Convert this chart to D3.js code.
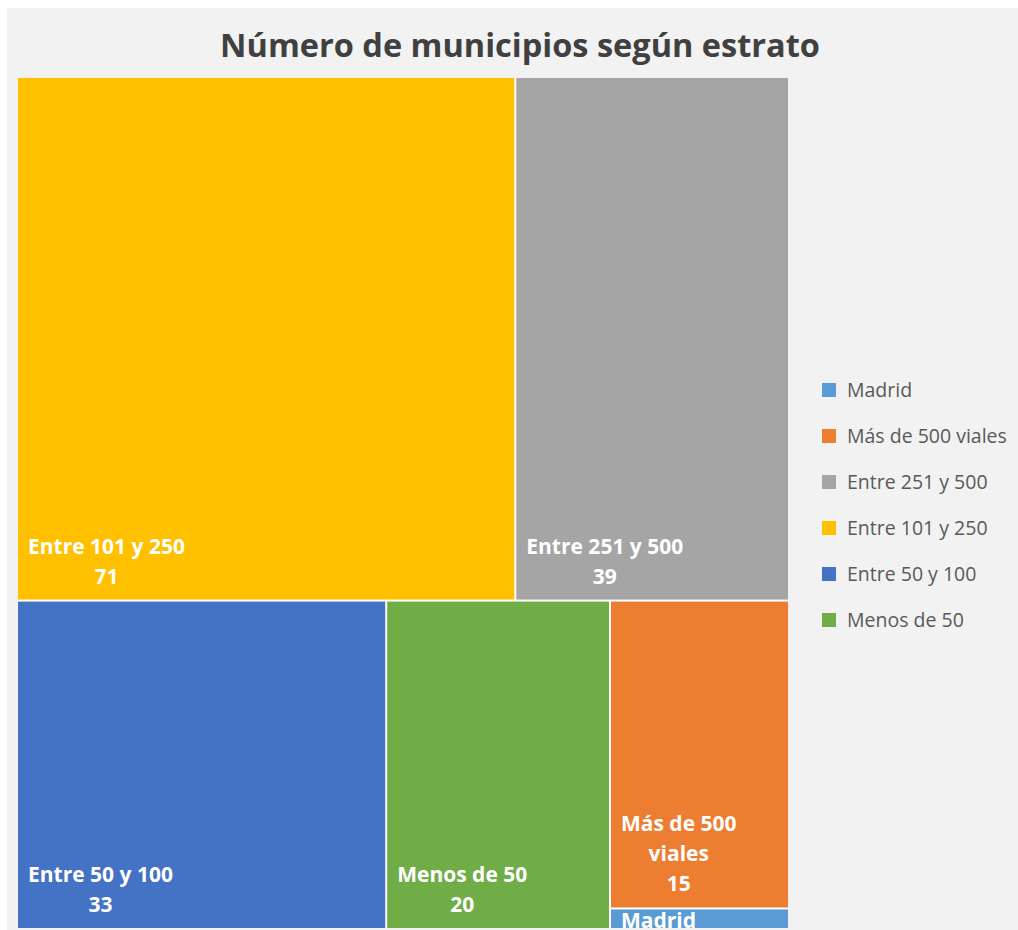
<!DOCTYPE html>
<html>
<head>
<meta charset="utf-8">
<script src="https://cdn.jsdelivr.net/npm/d3@7"></script>
<style>
    body { margin: 0; background: #ffffff; }
    svg { display: block; font-family: "Open Sans", "Noto Sans", sans-serif; }
    .chart-title { font-weight: 700; fill: #404040; text-anchor: middle; }
    .tile-label { font-weight: 700; fill: #ffffff; }
    .legend-text { fill: #595959; }
</style>
</head>
<body>
<div class="mainview"></div>
<script>

const title = "Número de municipios según estrato";
const categories = ["Madrid", "Más de 500 viales", "Entre 251 y 500", "Entre 101 y 250", "Entre 50 y 100", "Menos de 50"];
const values = [1, 15, 39, 71, 33, 20];
const colors = ["#5b9bd5", "#ed7d31", "#a5a5a5", "#ffc000", "#4472c4", "#70ad47"];

const dim = { width: 1018, height: 930 };
const frame = { left: 7, top: 8 };
const area = { x: 18, y: 78, width: 770, height: 850 };
const legendPos = { x: 822, y: 390, step: 46, box: 14 };

const svg = d3.select(".mainview").append("svg")
    .attr("width", dim.width)
    .attr("height", dim.height);

// background
svg.append("rect")
    .attr("x", frame.left).attr("y", frame.top)
    .attr("width", dim.width - frame.left)
    .attr("height", dim.height - frame.top)
    .style("fill", "#f2f2f2");

svg.append("text")
    .attr("class", "chart-title")
    .attr("x", 520)
    .attr("y", 57)
    .style("font-size", "32.5px")
    .text(title);

// Treemap ////////////////////////////////////

const data = categories.map((c, i) => ({ name: c, value: values[i], color: colors[i] }));

const root = d3.hierarchy({ children: data })
    .sum(d => d.value || 0)
    .sort((a, b) => b.value - a.value);

d3.treemap()
    .tile(d3.treemapSquarify.ratio(1))
    .size([area.width, area.height])
    .paddingInner(2)
    .round(false)(root);

const map = svg.append("g")
    .attr("transform", `translate(${ area.x }, ${ area.y })`);

map.append("rect")
    .attr("width", area.width)
    .attr("height", area.height)
    .style("fill", "#ffffff");

const defs = svg.append("defs");

const leaf = map.selectAll("g.leaf")
    .data(root.leaves())
    .join("g")
    .attr("class", "leaf")
    .attr("transform", d => `translate(${ d.x0 }, ${ d.y0 })`);

leaf.append("rect")
    .attr("width", d => d.x1 - d.x0)
    .attr("height", d => d.y1 - d.y0)
    .style("fill", d => d.data.color);

const fs = 21;
const lh = 30;

leaf.each(function(d, i) {
    const id = "clip-" + i;
    const w = d.x1 - d.x0;
    const h = d.y1 - d.y0;

    defs.append("clipPath").attr("id", id)
        .append("rect")
        .attr("width", w)
        .attr("height", h);

    const g = d3.select(this);

    // wrap label to tile width
    const words = d.data.name.split(" ");
    const lines = [];
    const probe = g.append("text").attr("class", "tile-label").style("font-size", fs + "px");
    let line = "";
    words.forEach(wd => {
        const test = line ? line + " " + wd : wd;
        probe.text(test);
        if (probe.node().getComputedTextLength() > w - 24 && line) {
            lines.push(line);
            line = wd;
        } else {
            line = test;
        }
    });
    lines.push(line);
    let blockW = 0;
    lines.forEach(l => {
        probe.text(l);
        blockW = Math.max(blockW, probe.node().getComputedTextLength());
    });
    probe.remove();

    const label = g.append("g")
        .attr("clip-path", `url(#${ id })`);

    if (h < 40) {
        // no room: name only, clipped by the tile
        label.append("text")
            .attr("class", "tile-label")
            .style("font-size", fs + "px")
            .attr("x", 10)
            .attr("y", 19)
            .text(d.data.name);
        return;
    }

    const rows = lines.concat([String(d.data.value)]);
    const cx = 10 + blockW / 2;
    rows.forEach((r, k) => {
        const centred = lines.length > 1 || k === rows.length - 1;
        label.append("text")
            .attr("class", "tile-label")
            .style("font-size", fs + "px")
            .attr("text-anchor", centred ? "middle" : "start")
            .attr("x", centred ? cx : 10)
            .attr("y", h - 16 - (rows.length - 1 - k) * lh)
            .text(r);
    });
});

// Legend ////////////////////////////////////

const legend = svg.append("g")
    .selectAll("g")
    .data(data)
    .join("g")
    .attr("transform", (d, i) => `translate(${ legendPos.x }, ${ legendPos.y + i * legendPos.step })`);

legend.append("rect")
    .attr("x", 0).attr("y", -legendPos.box / 2)
    .attr("width", legendPos.box).attr("height", legendPos.box)
    .style("fill", d => d.color);

legend.append("text")
    .attr("class", "legend-text")
    .attr("x", 25)
    .attr("y", 0)
    .attr("dy", "0.35em")
    .style("font-size", "19.5px")
    .text(d => d.name);

</script>
</body>
</html>
